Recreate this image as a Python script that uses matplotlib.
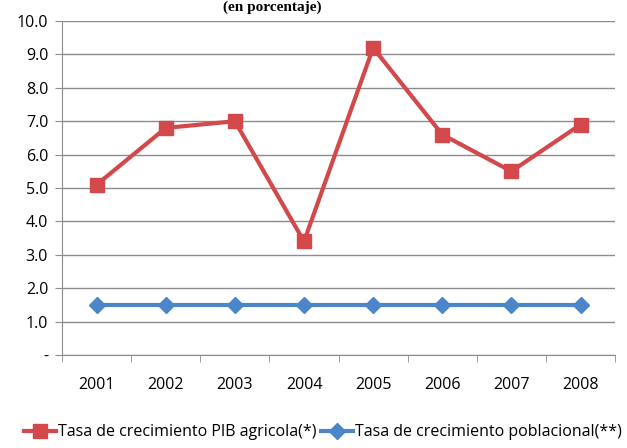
import matplotlib
matplotlib.use('Agg')
import matplotlib.pyplot as plt
from matplotlib.ticker import FixedLocator

# data
years = ['2001', '2002', '2003', '2004', '2005', '2006', '2007', '2008']
pib_agricola = [5.1, 6.8, 7.0, 3.4, 9.2, 6.6, 5.5, 6.9]
poblacional = [1.5, 1.5, 1.5, 1.5, 1.5, 1.5, 1.5, 1.5]
yticks = [0, 1, 2, 3, 4, 5, 6, 7, 8, 9, 10]
ylabels = ['-', '1.0', '2.0', '3.0', '4.0', '5.0', '6.0', '7.0', '8.0', '9.0', '10.0']

plt.rcParams['font.family'] = ['Open Sans', 'DejaVu Sans']

fig = plt.figure(figsize=(6.27, 4.48), dpi=100)
ax = fig.add_axes([0.099, 0.2076, 0.882, 0.7454])

x = list(range(len(years)))
ax.plot(x, pib_agricola, color='#D2484B', lw=3, marker='s', ms=10,
        label='Tasa de crecimiento PIB agricola(*)')
ax.plot(x, poblacional, color='#4A86C8', lw=3, marker='D', ms=8,
        label='Tasa de crecimiento poblacional(**)')

ax.set_xlim(-0.5, len(years) - 0.5)
ax.set_ylim(0, 10)
ax.set_yticks(yticks)
ax.set_yticklabels(ylabels, fontsize=11.5)
ax.set_xticks(x)
ax.set_xticklabels(years, fontsize=11.5)
ax.xaxis.set_minor_locator(FixedLocator([i - 0.5 for i in range(len(years) + 1)]))
ax.tick_params(axis='x', which='major', length=0, pad=16)
ax.tick_params(axis='x', which='minor', length=5, color='#8c8c8c')
ax.tick_params(axis='y', length=5, color='#8c8c8c', pad=5)

ax.grid(axis='y', color='#8c8c8c', lw=1)
ax.set_axisbelow(True)
for s in ['top', 'right']:
    ax.spines[s].set_visible(False)
ax.spines['left'].set_color('#8c8c8c')
ax.spines['bottom'].set_color('#8c8c8c')

fig.legend(loc='center', bbox_to_anchor=(0.515, 0.035), ncol=2, frameon=False,
           fontsize=11.5, handlelength=2.0, handletextpad=0.1, columnspacing=0.3)

# title fragment from the source page (kept inside the figure)
fig.text(0.434, 1 - 1 / 448, '(en porcentaje)', ha='center', va='top',
         fontsize=11, fontweight='bold', family='Liberation Serif')

fig.savefig('out.png', dpi=100)
